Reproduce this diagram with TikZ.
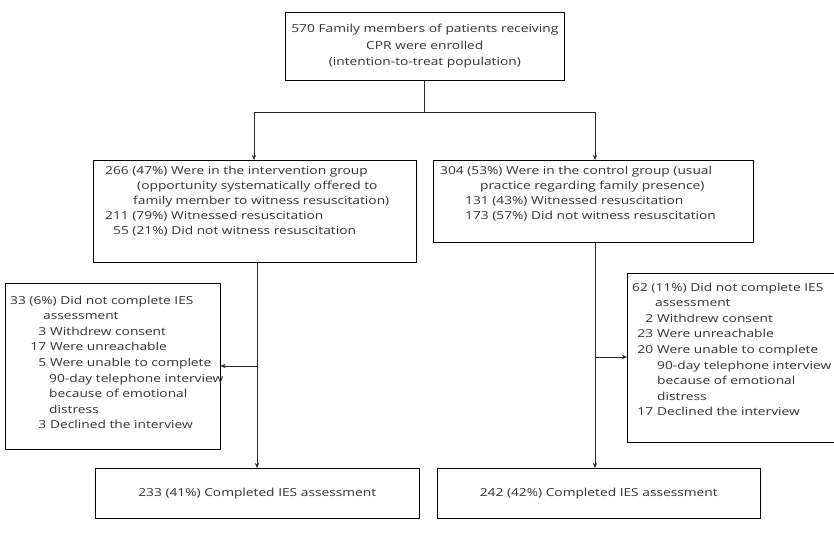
\documentclass[tikz,border=0pt]{standalone}
\usepackage{fontspec}
\setmainfont{Open Sans}[FakeStretch=1.25]
\usetikzlibrary{arrows.meta}
\newcommand\numcol[2]{\hspace*{#1}\makebox[18bp][r]{#2}\hspace{4bp}}
\newcommand\topfont{\fontsize{11bp}{16.7bp}\selectfont}
\newcommand\grpfont{\fontsize{11bp}{15.2bp}\selectfont}
\newcommand\excfont{\fontsize{11bp}{15.6bp}\selectfont}
\tikzset{
  boxshape/.style={draw=black, line width=0.6pt, anchor=north west, inner sep=0pt},
  txt/.style={anchor=north west, inner sep=0pt, align=left, text=black!80},
  ctrbox/.style={boxshape, align=center, text=black!80, font=\topfont},
  conn/.style={draw=black!85, line width=0.5pt},
  arr/.style={conn, -{Stealth[length=5bp,width=4bp]}},
}
\begin{document}
\begin{tikzpicture}[x=1bp,y=-1bp]
\useasboundingbox[fill=white] (0,0) rectangle (834,540);

% top box
\node[ctrbox, minimum width=279bp, minimum height=68bp, text width=271bp]
  (top) at (285,12)
  {570 Family members of patients receiving\\CPR were enrolled\\(intention-to-treat population)};

% group boxes
\node[boxshape, minimum width=323bp, minimum height=102bp] (lg) at (93,160) {};
\node[txt, font=\grpfont] (lgt) at (105,165.5)
  {266 (47\%) Were in the intervention group\\
   \hspace*{32bp}(opportunity systematically offered to\\
   \hspace*{28bp}family member to witness resuscitation)\\
   211 (79\%) Witnessed resuscitation\\
   \hspace*{8bp}55 (21\%) Did not witness resuscitation};

\node[boxshape, minimum width=320bp, minimum height=82bp] (rg) at (433,160) {};
\node[txt, font=\grpfont] (rgt) at (440,165.5)
  {304 (53\%) Were in the control group (usual\\
   \hspace*{40bp}practice regarding family presence)\\
   \hspace*{25bp}131 (43\%) Witnessed resuscitation\\
   \hspace*{25bp}173 (57\%) Did not witness resuscitation};

% exclusion boxes
\node[boxshape, minimum width=215bp, minimum height=166bp] (lx) at (5,283) {};
\node[txt, font=\excfont] (lxt) at (10,295.5)
  {33 (6\%) Did not complete IES\\
   \hspace*{33bp}assessment\\
   \numcol{18bp}{3}Withdrew consent\\
   \numcol{18bp}{17}Were unreachable\\
   \numcol{18bp}{5}Were unable to complete\\
   \hspace*{39bp}90-day telephone interview\\
   \hspace*{39bp}because of emotional\\
   \hspace*{39bp}distress\\
   \numcol{18bp}{3}Declined the interview};

\node[boxshape, minimum width=220bp, minimum height=169bp] (rx) at (627,273) {};
\node[txt, font=\excfont] (rxt) at (632,282.5)
  {62 (11\%) Did not complete IES\\
   \hspace*{23bp}assessment\\
   \numcol{3bp}{2}Withdrew consent\\
   \numcol{3bp}{23}Were unreachable\\
   \numcol{3bp}{20}Were unable to complete\\
   \hspace*{25bp}90-day telephone interview\\
   \hspace*{25bp}because of emotional\\
   \hspace*{25bp}distress\\
   \numcol{3bp}{17}Declined the interview};

% final boxes
\node[ctrbox, font=\grpfont, minimum width=324bp, minimum height=50bp]
  (lf) at (95,468) {233 (41\%) Completed IES assessment};
\node[ctrbox, font=\grpfont, minimum width=323bp, minimum height=50bp]
  (rf) at (437,468) {242 (42\%) Completed IES assessment};

% connectors
\coordinate (split) at (424,112);
\coordinate (splitL) at (254,112);
\coordinate (splitR) at (595,112);
\draw[conn] (top.south -| split) -- (split);
\draw[conn] (splitL) -- (splitR);
\draw[arr] (splitL) -- (splitL |- lg.north);
\draw[arr] (splitR) -- (splitR |- rg.north);

\coordinate (lb) at (257,366);
\coordinate (rb) at (595,357);
\draw[arr] (lb |- lg.south) -- (lb |- lf.north);
\draw[arr] (lb) -- (lb -| lx.east);
\draw[arr] (rb |- rg.south) -- (rb |- rf.north);
\draw[arr] (rb) -- (rb -| rx.west);
\end{tikzpicture}
\end{document}
